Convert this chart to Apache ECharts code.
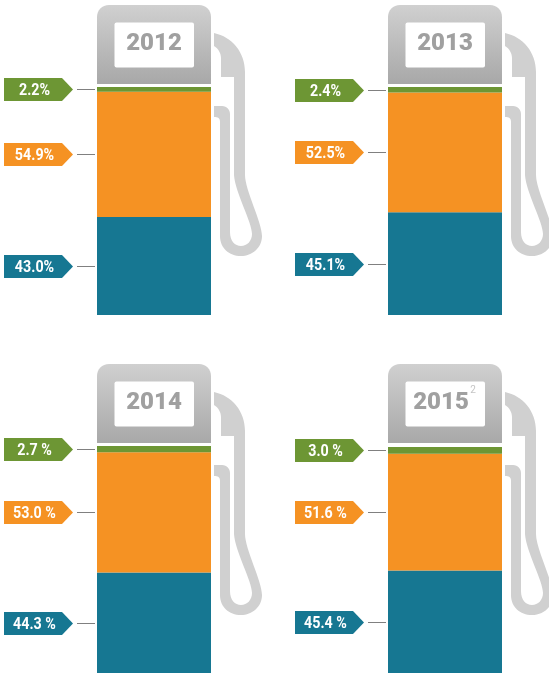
<!DOCTYPE html>
<html>
<head>
<meta charset="utf-8">
<title>Fuel pumps</title>
<script src="https://cdn.jsdelivr.net/npm/echarts@6/dist/echarts.min.js"></script>
<style>
  html, body { margin: 0; padding: 0; background: #fff; }
  #chart { width: 549px; height: 673px; }
</style>
</head>
<body>
<div id="chart"></div>
<script>
const years = ["2012", "2013", "2014", "2015"];
const notes = ["", "", "", "2"];
const greenValues = [2.2, 2.4, 2.7, 3.0];
const orangeValues = [54.9, 52.5, 53.0, 51.6];
const tealValues = [43.0, 45.1, 44.3, 45.4];
const greenLabels = ["2.2%", "2.4%", "2.7 %", "3.0 %"];
const orangeLabels = ["54.9%", "52.5%", "53.0 %", "51.6 %"];
const tealLabels = ["43.0%", "45.1%", "44.3 %", "45.4 %"];

const GREEN = "#6d9634";
const ORANGE = "#f59223";
const TEAL = "#167792";
const offsets = [[0, 0], [291, 0], [0, 359], [291, 359]];
const gridTops = [87, 87, 446, 447];

const hosePath =
  "M214,33 C232,37 245,52 245,72 L245,175 C245,190 262,222 262,236 " +
  "C262,248 252,256 241,256 C229,256 220,248 220,236 L220,122 " +
  "C220,118 218,117 214,117 L214,106 L222,106 C227,106 230,110 230,114 " +
  "L230,232 C230,241 235,246 241,246 C247,246 252,241 252,234 " +
  "C252,222 235,192 234,175 L234,77 L221,77 L221,58 C221,54 219,49 214,46 Z";
const headPath =
  "M97,84 L97,17 C97,10 102,5 109,5 L199,5 C206,5 211,10 211,17 L211,84 Z";

function renderTag(params, api) {
  const point = api.coord([0, api.value(1)]);
  const left = point[0] - api.size([1, 0])[0] / 2;
  const y = Math.round(point[1]) + 0.5;
  const color = api.value(3);
  return {
    type: "group",
    children: [
      {
        type: "polygon",
        shape: {
          points: [
            [left - 93, y - 11.5],
            [left - 35, y - 11.5],
            [left - 24, y],
            [left - 35, y + 11.5],
            [left - 93, y + 11.5]
          ]
        },
        style: { fill: color }
      },
      {
        type: "line",
        shape: { x1: left - 20, y1: y, x2: left - 2, y2: y },
        style: { stroke: "#808080", lineWidth: 1 }
      },
      {
        type: "text",
        x: left - 62.5,
        y: y + 1,
        scaleX: 0.84,
        style: {
          text: api.value(2),
          fill: "#fff",
          font: "bold 17px Roboto",
          align: "center",
          verticalAlign: "middle"
        }
      }
    ]
  };
}

// pump head, screen and hose around the bar
function renderPump(i) {
  return function () {
    const ox = offsets[i][0];
    const oy = offsets[i][1];
    const children = [
      {
        type: "path",
        x: ox,
        y: oy,
        shape: { pathData: hosePath },
        style: { fill: "#d0d0d0" }
      },
      {
        type: "path",
        x: ox,
        y: oy,
        shape: { pathData: headPath },
        style: {
          fill: new echarts.graphic.LinearGradient(0, 0, 0, 1, [
            { offset: 0, color: "#d0d0d0" },
            { offset: 1, color: "#a8a8a8" }
          ])
        }
      },
      {
        type: "rect",
        x: ox,
        y: oy,
        shape: { x: 114.5, y: 22.5, width: 79.5, height: 45, r: 2 },
        style: { fill: "#fff" }
      },
      {
        type: "text",
        x: ox + (notes[i] ? 150 : 154),
        y: oy + 44,
        style: {
          text: years[i],
          fill: "#a0a0a0",
          font: "900 24px Roboto",
          align: "center",
          verticalAlign: "middle"
        }
      }
    ];
    if (notes[i]) {
      children.push({
        type: "text",
        x: ox + 182,
        y: oy + 31,
        style: {
          text: notes[i],
          fill: "#c4c4c4",
          font: "10px Roboto",
          align: "center",
          verticalAlign: "middle"
        }
      });
    }
    return { type: "group", children: children };
  };
}

const grids = [];
const xAxes = [];
const yAxes = [];
const series = [];

years.forEach((year, i) => {
  grids.push({ left: 97 + offsets[i][0], top: gridTops[i], width: 114, height: 228 });
  xAxes.push({ type: "category", gridIndex: i, data: [year], show: false });
  yAxes.push({ type: "value", gridIndex: i, min: 0, max: 100, show: false });

  [[tealValues, TEAL], [orangeValues, ORANGE], [greenValues, GREEN]].forEach(item => {
    series.push({
      type: "bar",
      stack: "pump" + i,
      xAxisIndex: i,
      yAxisIndex: i,
      barWidth: "100%",
      itemStyle: { color: item[1] },
      data: [item[0][i]]
    });
  });

  const tealMid = tealValues[i] / 2;
  const orangeMid = tealValues[i] + orangeValues[i] / 2;
  const greenMid = tealValues[i] + orangeValues[i] + greenValues[i] / 2;
  series.push({
    type: "custom",
    xAxisIndex: i,
    yAxisIndex: i,
    clip: false,
    renderItem: renderTag,
    encode: { x: 0, y: 1 },
    data: [
      [0, tealMid, tealLabels[i], TEAL],
      [0, orangeMid, orangeLabels[i], ORANGE],
      [0, greenMid, greenLabels[i], GREEN]
    ]
  });
  series.push({
    type: "custom",
    xAxisIndex: i,
    yAxisIndex: i,
    clip: false,
    renderItem: renderPump(i),
    data: [[0, 0]]
  });
});

const chart = echarts.init(document.getElementById("chart"));
chart.setOption({
  animation: false,
  backgroundColor: "#fff",
  grid: grids,
  xAxis: xAxes,
  yAxis: yAxes,
  series: series
});
</script>
</body>
</html>
